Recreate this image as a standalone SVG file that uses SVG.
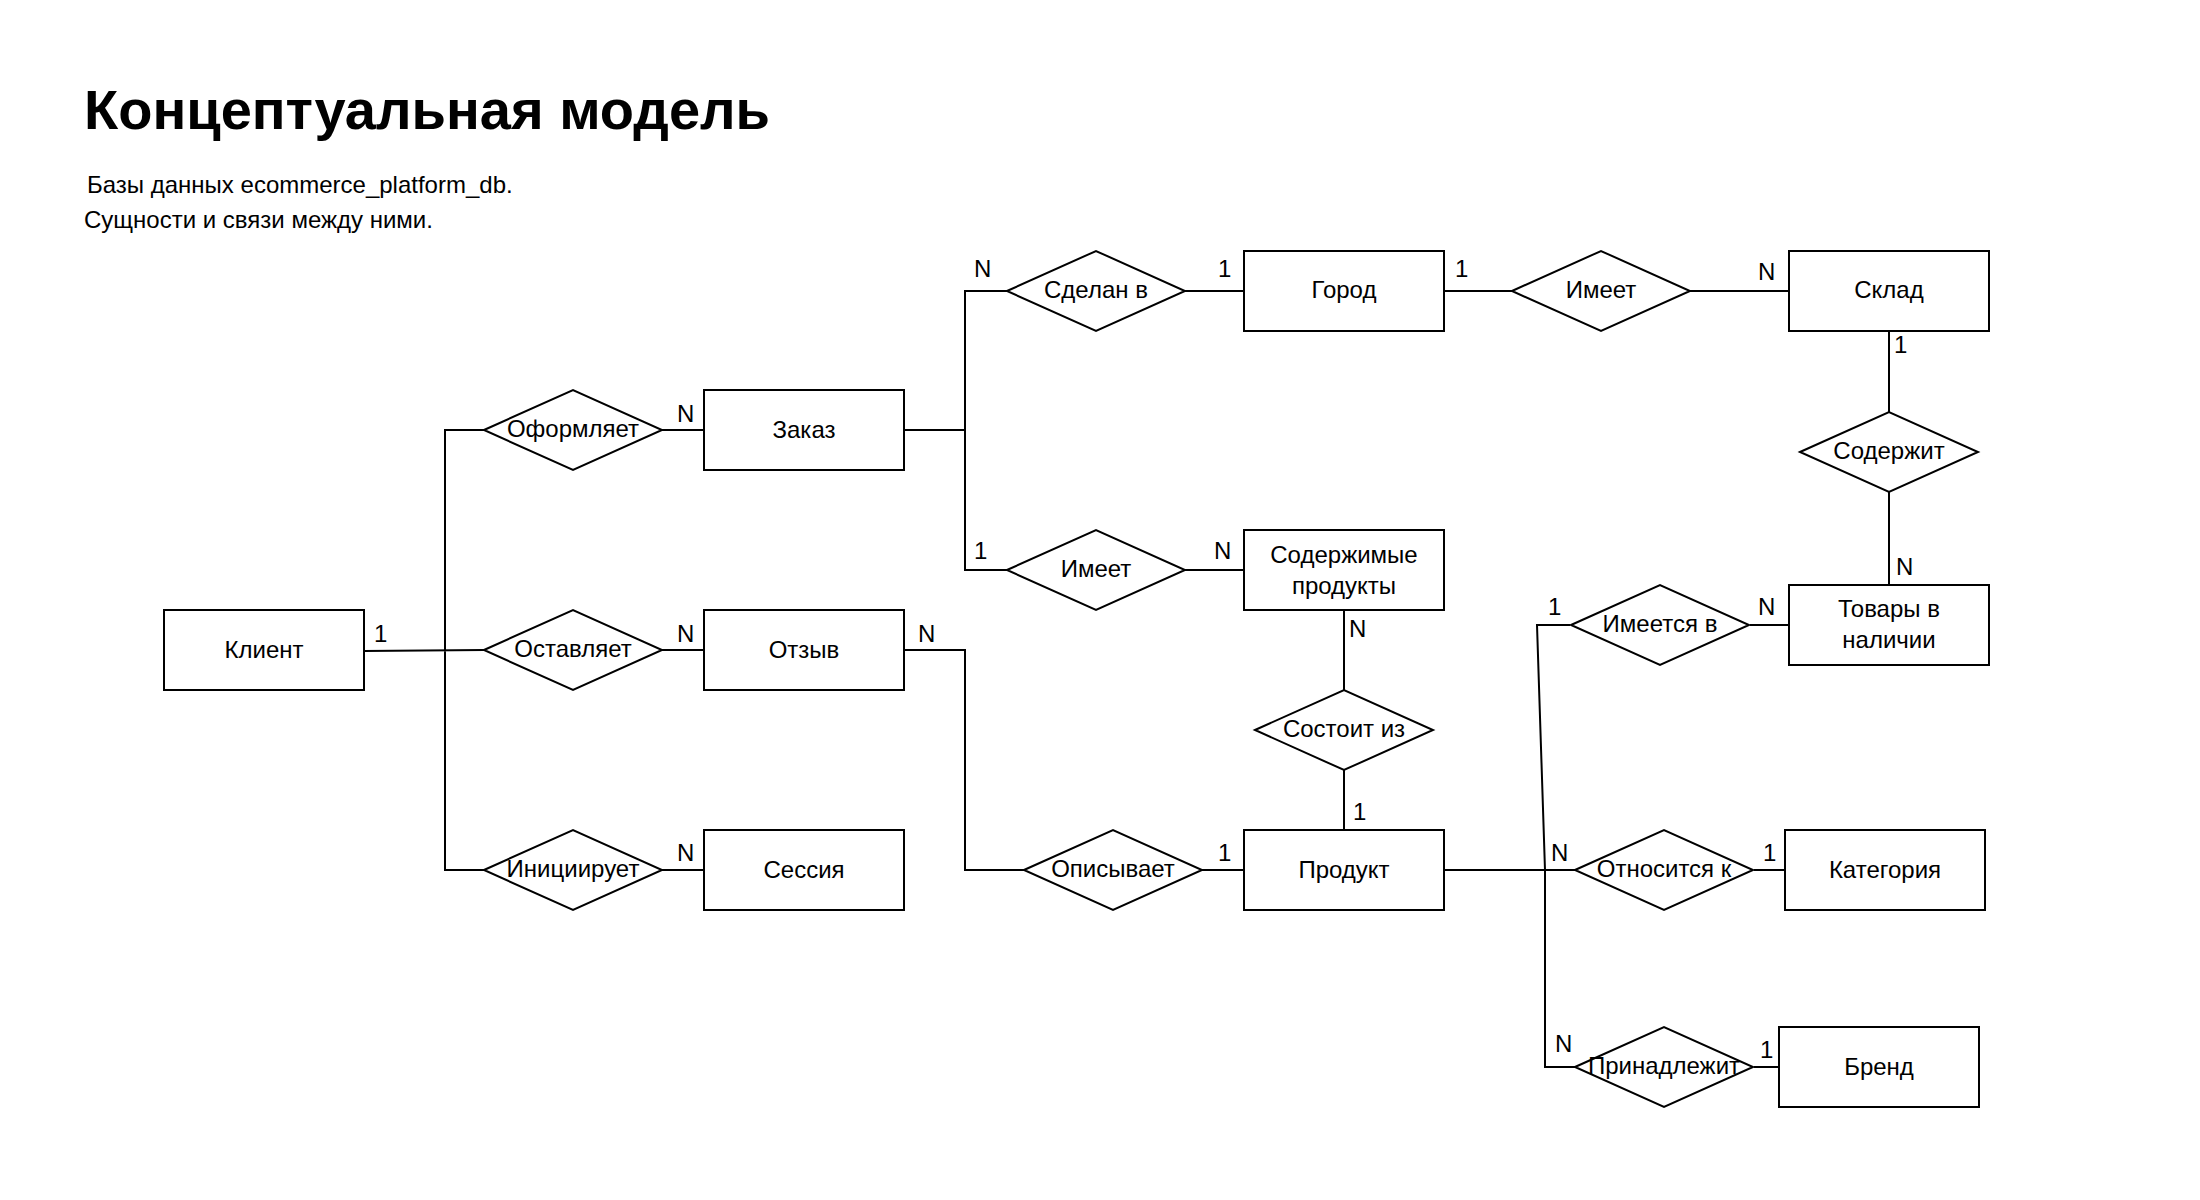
<svg xmlns="http://www.w3.org/2000/svg" width="2200" height="1200" viewBox="0 0 2200 1200">
<style>
text{font-family:"Liberation Sans",Arial,sans-serif;fill:#000}
.t{font-size:24px;text-anchor:middle}
.c{font-size:24px}
.e rect,.r polygon{fill:#fff;stroke:#000;stroke-width:2}
#connectors path{fill:none;stroke:#000;stroke-width:2}
</style>
<rect width="2200" height="1200" fill="#fff"/>
<text x="84" y="129" style="font-size:56px;font-weight:bold">Концептуальная модель</text>
<text x="87" y="193" style="font-size:24px">Базы данных ecommerce_platform_db.</text>
<text x="84" y="228" style="font-size:24px">Сущности и связи между ними.</text>
<g id="connectors">
<path d="M364,651 L484,650 M484,430 H445 V870 H484"/>
<path d="M662,430 H704 M662,650 H704 M662,870 H704"/>
<path d="M904,430 H965 M1007,291 H965 V570 H1007"/>
<path d="M1185,291 H1244 M1444,291 H1512 M1690,291 H1789"/>
<path d="M1889,331 V412 M1889,492 V585"/>
<path d="M1185,570 H1244 M1344,610 V690 M1344,770 V830"/>
<path d="M904,650 H965 V870 H1024 M1202,870 H1244"/>
<path d="M1444,870 H1575 M1570,625 H1537 L1545,870 V1067 H1575"/>
<path d="M1750,625 H1789 M1754,870 H1785 M1754,1067 H1779"/>
</g>
<g id="klient" class="e"><rect x="164" y="610" width="200" height="80"/><text class="t" x="264" y="658">Клиент</text></g>
<g id="zakaz" class="e"><rect x="704" y="390" width="200" height="80"/><text class="t" x="804" y="438">Заказ</text></g>
<g id="otzyv" class="e"><rect x="704" y="610" width="200" height="80"/><text class="t" x="804" y="658">Отзыв</text></g>
<g id="sessiya" class="e"><rect x="704" y="830" width="200" height="80"/><text class="t" x="804" y="878">Сессия</text></g>
<g id="gorod" class="e"><rect x="1244" y="251" width="200" height="80"/><text class="t" x="1344" y="298">Город</text></g>
<g id="sklad" class="e"><rect x="1789" y="251" width="200" height="80"/><text class="t" x="1889" y="298">Склад</text></g>
<g id="soderzhimye" class="e"><rect x="1244" y="530" width="200" height="80"/><text class="t" x="1344" y="563">Содержимые</text><text class="t" x="1344" y="594">продукты</text></g>
<g id="tovary" class="e"><rect x="1789" y="585" width="200" height="80"/><text class="t" x="1889" y="617">Товары в</text><text class="t" x="1889" y="648">наличии</text></g>
<g id="produkt" class="e"><rect x="1244" y="830" width="200" height="80"/><text class="t" x="1344" y="878">Продукт</text></g>
<g id="kategoriya" class="e"><rect x="1785" y="830" width="200" height="80"/><text class="t" x="1885" y="878">Категория</text></g>
<g id="brend" class="e"><rect x="1779" y="1027" width="200" height="80"/><text class="t" x="1879" y="1075">Бренд</text></g>
<g id="oformlyaet" class="r"><polygon points="484,430 573,390 662,430 573,470"/><text class="t" x="573" y="437">Оформляет</text></g>
<g id="ostavlyaet" class="r"><polygon points="484,650 573,610 662,650 573,690"/><text class="t" x="573" y="657">Оставляет</text></g>
<g id="initsiiruet" class="r"><polygon points="484,870 573,830 662,870 573,910"/><text class="t" x="573" y="877">Инициирует</text></g>
<g id="sdelan" class="r"><polygon points="1007,291 1096,251 1185,291 1096,331"/><text class="t" x="1096" y="298">Сделан в</text></g>
<g id="imeet1" class="r"><polygon points="1007,570 1096,530 1185,570 1096,610"/><text class="t" x="1096" y="577">Имеет</text></g>
<g id="imeet2" class="r"><polygon points="1512,291 1601,251 1690,291 1601,331"/><text class="t" x="1601" y="298">Имеет</text></g>
<g id="soderzhit" class="r"><polygon points="1800,452 1889,412 1978,452 1889,492"/><text class="t" x="1889" y="459">Содержит</text></g>
<g id="sostoit" class="r"><polygon points="1255,730 1344,690 1433,730 1344,770"/><text class="t" x="1344" y="737">Состоит из</text></g>
<g id="opisyvaet" class="r"><polygon points="1024,870 1113,830 1202,870 1113,910"/><text class="t" x="1113" y="877">Описывает</text></g>
<g id="imeetsya" class="r"><polygon points="1571,625 1660,585 1749,625 1660,665"/><text class="t" x="1660" y="632">Имеется в</text></g>
<g id="otnositsya" class="r"><polygon points="1575,870 1664,830 1753,870 1664,910"/><text class="t" x="1664" y="877">Относится к</text></g>
<g id="prinadlezhit" class="r"><polygon points="1575,1067 1664,1027 1753,1067 1664,1107"/><text class="t" x="1664" y="1074">Принадлежит</text></g>
<g id="labels" class="c">
<text x="374" y="642">1</text>
<text x="677" y="422">N</text>
<text x="677" y="642">N</text>
<text x="677" y="861">N</text>
<text x="974" y="277">N</text>
<text x="974" y="559">1</text>
<text x="1218" y="277">1</text>
<text x="1455" y="277">1</text>
<text x="1758" y="280">N</text>
<text x="1894" y="353">1</text>
<text x="1896" y="575">N</text>
<text x="1214" y="559">N</text>
<text x="1349" y="637">N</text>
<text x="1353" y="820">1</text>
<text x="918" y="642">N</text>
<text x="1218" y="861">1</text>
<text x="1548" y="615">1</text>
<text x="1758" y="615">N</text>
<text x="1551" y="861">N</text>
<text x="1763" y="861">1</text>
<text x="1555" y="1052">N</text>
<text x="1760" y="1058">1</text>
</g>
</svg>
